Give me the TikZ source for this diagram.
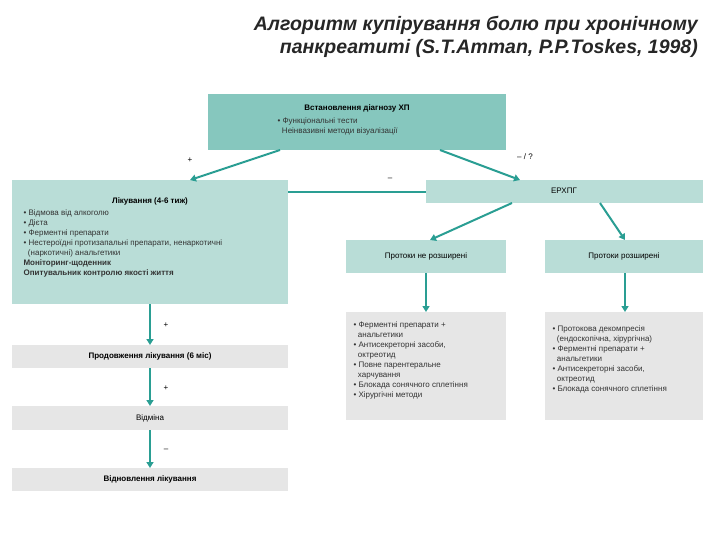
\documentclass[tikz,border=0pt]{standalone}
\usepackage{fontspec}
\setmainfont{Liberation Sans}
\usetikzlibrary{arrows.meta}
\begin{document}
\begin{tikzpicture}[x=1pt,y=-1pt,
  arr/.style={draw=arrc,line width=2pt,-{Triangle[length=6pt,width=7pt]}},
  txt/.style={font=\fontsize{8}{10}\selectfont,text=black!80,align=left,anchor=north west},
  lbl/.style={font=\fontsize{8}{9}\selectfont}]
\definecolor{teal1}{HTML}{86C7BE}
\definecolor{teal2}{HTML}{B9DDD7}
\definecolor{grey1}{HTML}{E6E6E6}
\definecolor{arrc}{HTML}{2A9E93}
\useasboundingbox (0,0) rectangle (720,540);
\node[font=\fontsize{19.5}{23}\selectfont\bfseries\itshape,text=black!85,align=right,anchor=north east,inner sep=0pt] (title) at (698,16)
 {Алгоритм купірування болю при хронічному\\панкреатиті (S.T.Amman, P.P.Toskes, 1998)};
% boxes
\fill[teal1] (208,94) rectangle (506,150);
\node[lbl,font=\fontsize{8}{9}\selectfont\bfseries] (toph) at (357,108) {Встановлення діагнозу ХП};
\node[txt] (topt) at (274,114) {• Функціональні тести\\\ \ Неінвазивні методи візуалізації};
\fill[teal2] (12,180) rectangle (288,304);
\node[lbl,font=\fontsize{8}{9}\selectfont\bfseries] (lh) at (150,201) {Лікування (4-6 тиж)};
\node[txt] (lt) at (20,206) {• Відмова від алкоголю\\• Дієта\\• Ферментні препарати\\• Нестероїдні протизапальні препарати, ненаркотичні\\\ \ (наркотичні) анальгетики\\\textbf{Моніторинг-щоденник}\\\textbf{Опитувальник контролю якості життя}};
\fill[teal2] (426,180) rectangle (703,203);
\node[lbl] (ercp) at (564,191) {ЕРХПГ};
\fill[teal2] (346,240) rectangle (506,273);
\node[lbl] (pn) at (426,256) {Протоки не розширені};
\fill[teal2] (545,240) rectangle (703,273);
\node[lbl] (pr) at (624,256) {Протоки розширені};
\fill[grey1] (346,312) rectangle (506,420);
\node[txt] (gl) at (350,318) {• Ферментні препарати +\\\ \ анальгетики\\• Антисекреторні засоби,\\\ \ октреотид\\• Повне парентеральне\\\ \ харчування\\• Блокада сонячного сплетіння\\• Хірургічні методи};
\fill[grey1] (545,312) rectangle (703,420);
\node[txt] (gr) at (549,322) {• Протокова декомпресія\\\ \ (ендоскопічна, хірургічна)\\• Ферментні препарати +\\\ \ анальгетики\\• Антисекреторні засоби,\\\ \ октреотид\\• Блокада сонячного сплетіння};
\fill[grey1] (12,345) rectangle (288,368);
\node[lbl,font=\fontsize{8}{9}\selectfont\bfseries] (pl) at (150,356) {Продовження лікування (6 міс)};
\fill[grey1] (12,406) rectangle (288,430);
\node[lbl] (vm) at (150,418) {Відміна};
\fill[grey1] (12,468) rectangle (288,491);
\node[lbl,font=\fontsize{8}{9}\selectfont\bfseries] (vd) at (150,479) {Відновлення лікування};
% connectors
\coordinate (a1) at (280,150); \coordinate (b1) at (190,180);
\draw[arr] (a1) -- (b1);
\coordinate (a2) at (440,150); \coordinate (b2) at (520,180);
\draw[arr] (a2) -- (b2);
\coordinate (a3) at (288,192); \coordinate (b3) at (426,192);
\draw[draw=arrc,line width=2pt] (a3) -- (b3);
\coordinate (a4) at (512,203); \coordinate (b4) at (430,240);
\draw[arr] (a4) -- (b4);
\coordinate (a5) at (600,203); \coordinate (b5) at (625,240);
\draw[arr] (a5) -- (b5);
\coordinate (a6) at (426,273); \coordinate (b6) at (426,312);
\draw[arr] (a6) -- (b6);
\coordinate (a7) at (625,273); \coordinate (b7) at (625,312);
\draw[arr] (a7) -- (b7);
\coordinate (a8) at (150,304); \coordinate (b8) at (150,345);
\draw[arr] (a8) -- (b8);
\coordinate (a9) at (150,368); \coordinate (b9) at (150,406);
\draw[arr] (a9) -- (b9);
\coordinate (a10) at (150,430); \coordinate (b10) at (150,468);
\draw[arr] (a10) -- (b10);
\node[lbl] (p1) at (190,160) {+};
\node[lbl] (p2) at (525,157) {– / ?};
\node[lbl] (p3) at (390,179) {–};
\node[lbl] (p4) at (166,325) {+};
\node[lbl] (p5) at (166,388) {+};
\node[lbl] (p6) at (166,450) {–};
\end{tikzpicture}
\end{document}
